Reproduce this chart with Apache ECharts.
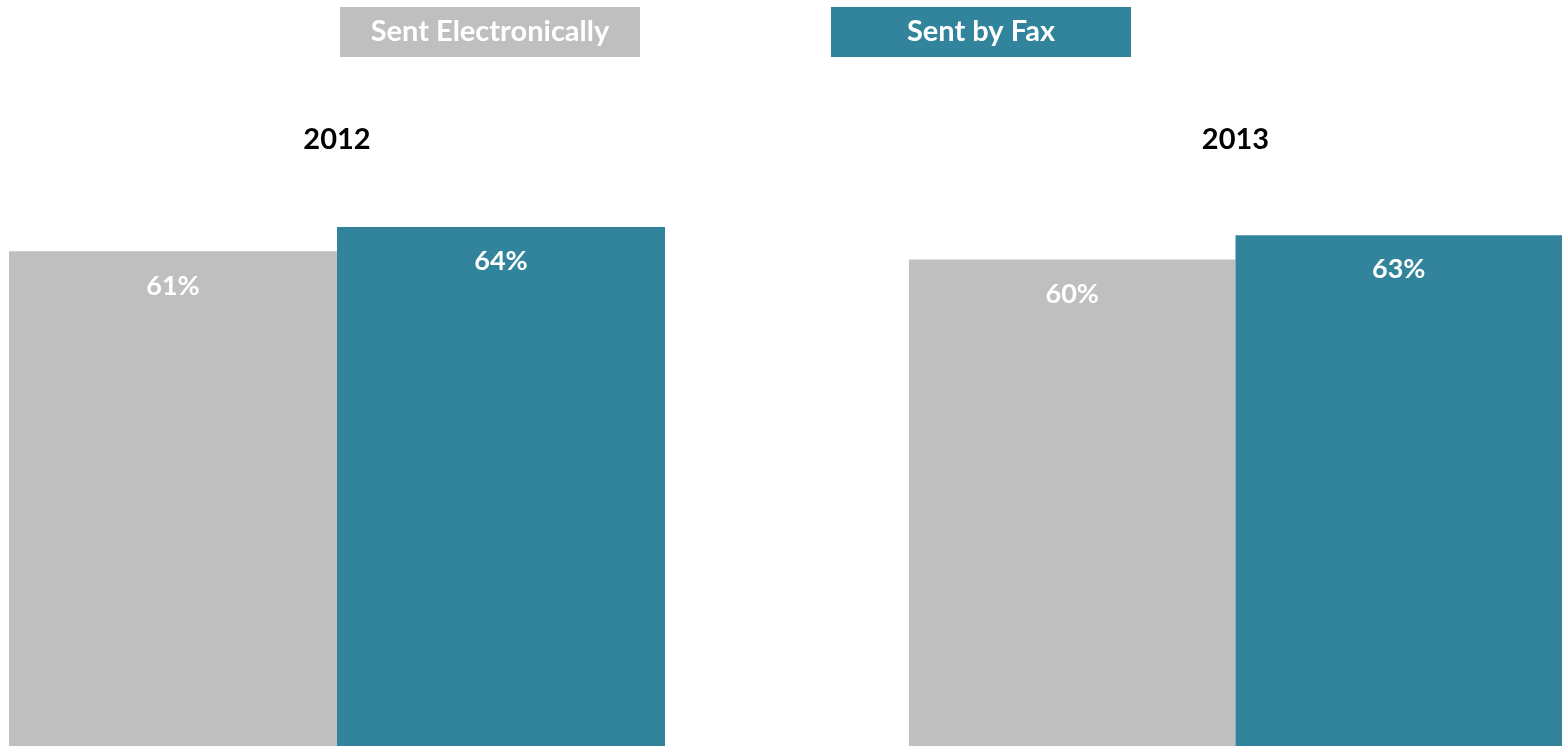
<!DOCTYPE html>
<html>
<head>
<meta charset="utf-8">
<script src="https://cdn.jsdelivr.net/npm/echarts@6/dist/echarts.min.js"></script>
<style>
html,body{margin:0;padding:0;background:#fff;}
#chart{width:1562px;height:746px;}
</style>
</head>
<body>
<div id="chart"></div>
<script>
const years = ['2012', '2013'];
const seriesNames = ['Sent Electronically', 'Sent by Fax'];
const electronically = [61, 60];
const byFax = [64, 63];
const colors = ['#BFBFBF', '#31849B'];

const FONT = 'Lato';
const chart = echarts.init(document.getElementById('chart'));

const grids = [
  { left: 9, width: 656, top: 150, height: 599 },
  { left: 909, width: 653, top: 150, height: 599 }
];
const xAxes = years.map((y, i) => ({
  type: 'category', gridIndex: i, data: [y], position: 'top',
  axisLine: { show: false }, axisTick: { show: false },
  axisLabel: { color: '#000', fontFamily: FONT, fontWeight: 'bold', fontSize: 29, margin: -4 }
}));
const yAxes = years.map((y, i) => ({
  type: 'value', gridIndex: i, min: 0, max: 73.5, show: false, splitLine: { show: false }
}));
const values = [electronically, byFax];
const series = [];
years.forEach((y, i) => {
  seriesNames.forEach((n, k) => {
    series.push({
      name: n, type: 'bar', xAxisIndex: i, yAxisIndex: i,
      data: [values[k][i]],
      barGap: '0%', barCategoryGap: '0%',
      itemStyle: { color: colors[k] },
      label: {
        show: true, position: 'insideTop', distance: 21,
        color: '#fff', fontFamily: FONT, fontWeight: 'bold', fontSize: 27,
        formatter: p => p.value + '%'
      }
    });
  });
});

chart.setOption({
  animation: false,
  grid: grids,
  xAxis: xAxes,
  yAxis: yAxes,
  legend: {
    data: seriesNames,
    left: 335, top: 7, padding: 0,
    icon: 'rect', itemWidth: 0, itemHeight: 0, itemGap: 186,
    selectedMode: false,
    formatter: name => (name === seriesNames[0] ? '{g|' : '{t|') + name + '}',
    textStyle: {
      rich: {
        g: { width: 300, height: 50, lineHeight: 50, align: 'center', backgroundColor: colors[0], color: '#fff', fontFamily: FONT, fontWeight: 'bold', fontSize: 29 },
        t: { width: 300, height: 50, lineHeight: 50, align: 'center', backgroundColor: colors[1], color: '#fff', fontFamily: FONT, fontWeight: 'bold', fontSize: 29 }
      }
    }
  },
  series: series
});
</script>
</body>
</html>
